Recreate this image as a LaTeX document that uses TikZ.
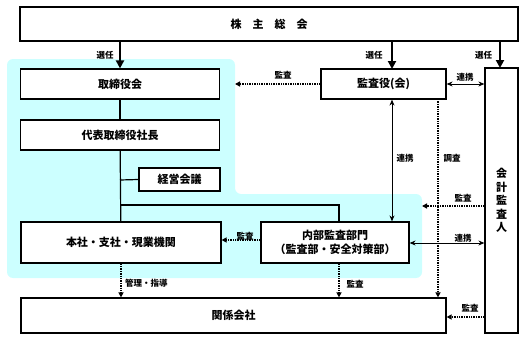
\documentclass[tikz,border=0pt]{standalone}
\usepackage{fontspec}
\setmainfont{Noto Sans CJK JP}
\usetikzlibrary{arrows.meta,calc,positioning}
\definecolor{lightcyan}{RGB}{204,255,255}

\begin{document}
\begin{tikzpicture}[x=1pt,y=-1pt,
box/.style={draw,line width=1.2pt,fill=white,inner sep=0pt,
  font=\fontsize{11}{13.5}\selectfont\bfseries},
lbl/.style={inner sep=0pt,font=\fontsize{8.5}{10}\selectfont\bfseries},
elect/.style={-{Triangle[length=8pt,width=8pt]},line width=2.5pt},
audit/.style={-{Triangle[length=5pt,width=5pt]},densely dotted,line width=1.4pt},
link/.style={{Stealth[length=6pt,width=5pt]}-{Stealth[length=6pt,width=5pt]},line width=0.9pt}]
\useasboundingbox (0,0) rectangle (523,340);
% cyan zone
\fill[lightcyan,rounded corners=6pt] (7,59) -- (235,59) -- (235,194) -- (422,194)
  -- (422,278) -- (7,278) -- cycle;
% boxes
\node[box,minimum width=498pt,minimum height=34pt] (sh) at (269,24) {株　主　総　会};
\node[box,minimum width=199pt,minimum height=30pt] (bd) at (120,84) {取締役会};
\node[box,minimum width=199pt,minimum height=30pt] (pr) at (120,135) {代表取締役社長};
\node[box,minimum width=81pt,minimum height=23pt] (mc) at (179.5,179.5) {経営会議};
\node[box,minimum width=200pt,minimum height=41pt] (op) at (121,242.5) {本社・支社・現業機関};
\node[box,minimum width=148pt,minimum height=41pt,align=center] (ia) at (335,242.5)
  {内部監査部門\\（監査部・安全対策部）};
\node[box,minimum width=425pt,minimum height=35pt] (af) at (233.5,315.5) {関係会社};
\node[box,minimum width=33pt,minimum height=265pt,align=center] (ea) at (501.5,200.5)
  {会\\計\\監\\査\\人};
\node[box,minimum width=125pt,minimum height=30pt] (au) at (383.5,84) {監査役(会)};
% free ends
\coordinate (c1) at (235,84);
\coordinate (c2) at (422,206);
\coordinate (j1) at (120,180);
\coordinate (j2) at (120,205);
\coordinate (j3) at (339,205);
% solid lines
\draw[line width=1.2pt] (bd) -- (pr);
\draw[line width=1.2pt] (pr) -- (op);
\draw[line width=1.2pt] (j1) -- (mc.west);
\draw[line width=1.2pt] (j2) -- (j3) -- (ia.north -| j3);
% election
\draw[elect] (sh.south -| bd.north) -- (bd.north);
\draw[elect] (392,41) -- (392,69);
\draw[elect] (500,41) -- (500,68);
\node[lbl] at (105,55) {選任};
\node[lbl] at (374,55) {選任};
\node[lbl] at (483.5,55) {選任};
% audits
\draw[audit] (au.west) -- (c1);
\node[lbl] at (283,75) {監査};
\draw[audit] (438,99) -- (af.north -| 438,0);
\node[lbl] at (452,158) {調査};
\draw[audit] (ea.west |- c2) -- (c2);
\node[lbl] at (463,198) {監査};
\draw[audit] (ia.west |- 0,240) -- (op.east |- 0,240);
\node[lbl] at (245,236) {監査};
\draw[audit] (op.south) -- (af.north -| op.south);
\node[lbl,anchor=west] at (125,283) {管理・指導};
\draw[audit] (ia.south -| j3) -- (af.north -| j3);
\node[lbl] at (355,284) {監査};
\draw[audit] (ea.west |- 0,317) -- (af.east |- 0,317);
\node[lbl] at (470,308) {監査};
% links
\draw[link] (au.east) -- (ea.west |- au.east);
\node[lbl] at (465,77) {連携};
\draw[link] (ia.north -| 392,0) -- (au.south -| 392,0);
\node[lbl] at (405,158) {連携};
\draw[link] (ia.east |- 0,243) -- (ea.west |- 0,243);
\node[lbl] at (463,238) {連携};
\end{tikzpicture}
\end{document}
